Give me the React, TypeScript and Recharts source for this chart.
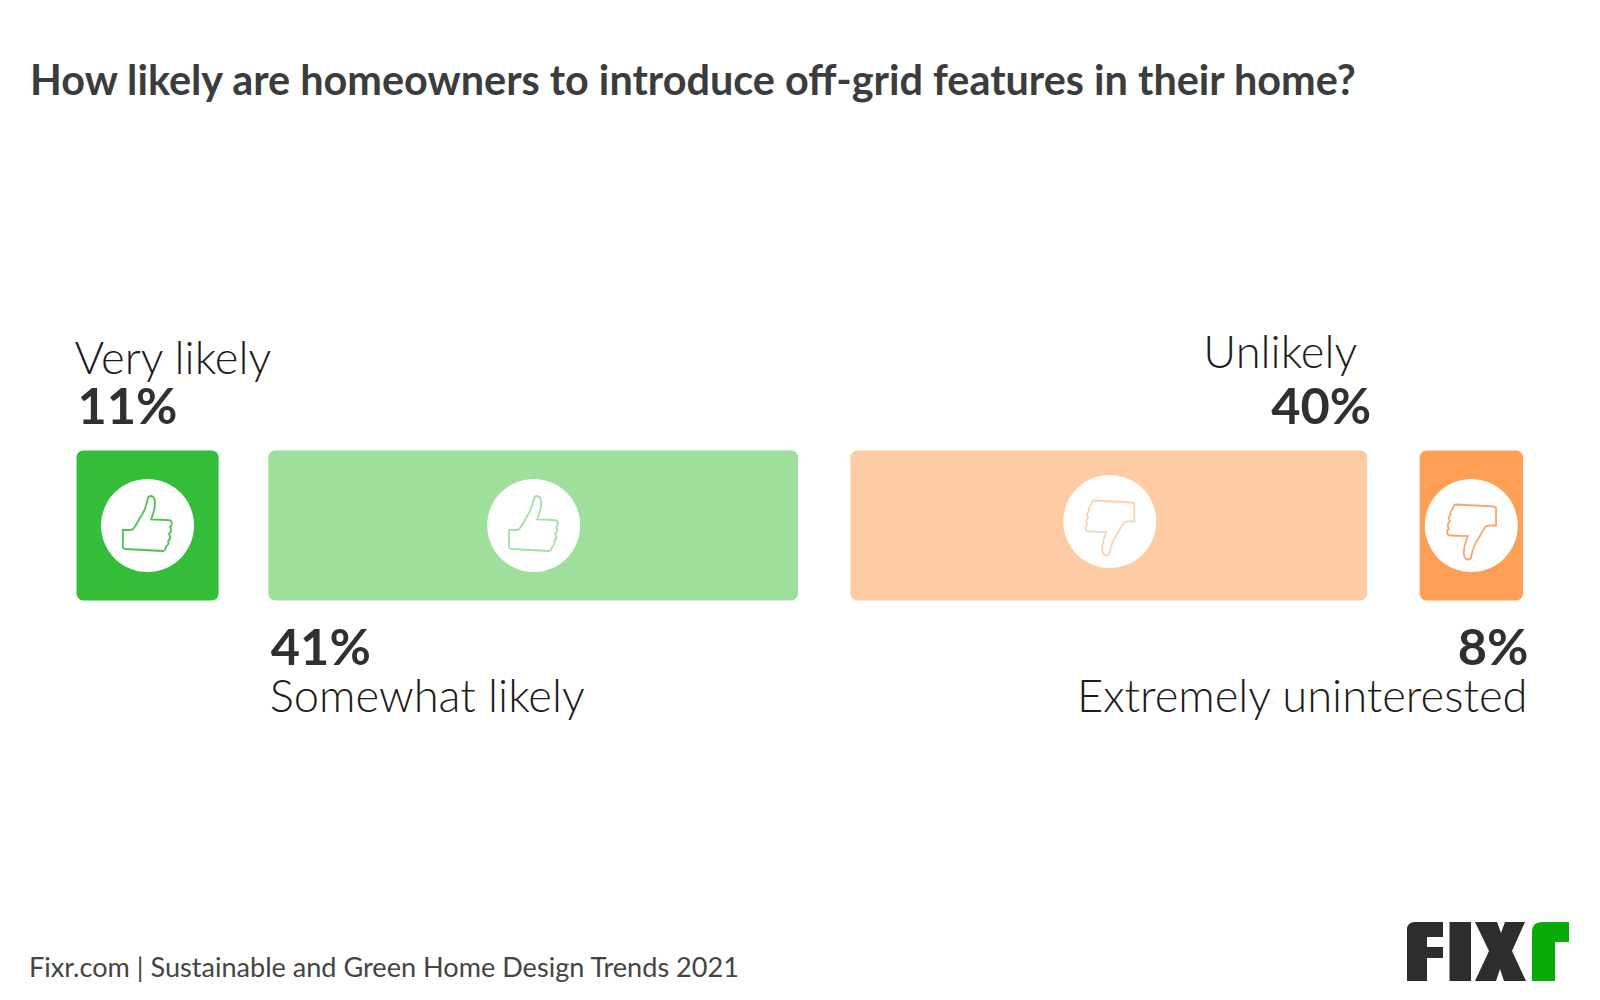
import { Bar, BarChart, XAxis, YAxis } from "recharts";

const categories = ["Very likely", "Somewhat likely", "Unlikely", "Extremely uninterested"];
const shares = [11, 41, 40, 8];
const colors = ["#33bd38", "#9ddf9b", "#fecba4", "#fe9f55"];
const iconColors = ["#4cc451", "#a5dfa4", "#f8d3b4", "#f5a869"];

const row = Object.fromEntries([["name", "share"], ...categories.map((c, i) => [c, shares[i]])]);

const thumb =
  "M-24.7 4.5 L-24.7 21.5 Q-24.7 23 -22 23.5 L15 25.5 Q18 25.5 18.5 21 Q22 19 20.5 15.5 Q24 12.5 21.5 8.5 Q25 5.5 22.5 1.5 Q25 -1 24 -3.5 Q23.5 -5.5 20 -5.5 L3.5 -6 Q7.5 -16 7.5 -23 Q7.5 -29 3.5 -29.5 Q0.5 -29.5 0 -26 Q-2 -15 -8 -7 Q-11 -1 -14 3 Q-15 4.5 -18 4.5 Z";

// label placement for each bar: gap shift, edge offsets for name and value, icon nudge
const placement = [
  { shift: 0, anchor: "start", nameDx: -2, valueDx: 1, above: true, nameY: 374, iconDx: 0, iconDy: 0 },
  { shift: 49.7, anchor: "start", nameDx: 1.5, valueDx: 2.5, above: false, nameY: 712, iconDx: 0.5, iconDy: 0 },
  { shift: 102, anchor: "end", nameDx: -10, valueDx: 4, above: true, nameY: 368, iconDx: 1, iconDy: -4 },
  { shift: 154.5, anchor: "end", nameDx: 4.5, valueDx: 5.5, above: false, nameY: 712, iconDx: 0, iconDy: 0 },
];

function Segment(props: any, i: number) {
  const p = placement[i];
  const x = props.x + p.shift;
  const { y, width, height } = props;
  const edge = p.anchor === "start" ? x : x + width;
  const cx = x + width / 2 + p.iconDx;
  const cy = y + height / 2 + p.iconDy;
  const up = i < 2;
  return (
    <g>
      <rect x={x} y={y} width={width} height={height} rx={7} fill={colors[i]} />
      <circle cx={cx} cy={cy} r={46.5} fill="#fff" />
      <path
        d={thumb}
        transform={`translate(${cx},${cy + (up ? 0 : 4.5)}) rotate(${up ? 0 : 180})`}
        fill="none"
        stroke={iconColors[i]}
        strokeWidth={1.8}
      />
      <text x={edge + p.nameDx} y={p.nameY} textAnchor={p.anchor as any} fontFamily="Lato" fontWeight={300} fontSize={45.3} fill="#1c1c1c">
        {categories[i]}
      </text>
      <text x={edge + p.valueDx} y={p.above ? 423.5 : 664.5} textAnchor={p.anchor as any} fontFamily="Lato" fontWeight={700} fontSize={50.5} fill="#303030">
        {shares[i]}%
      </text>
    </g>
  );
}

export default function App() {
  return (
    <div style={{ position: "absolute", left: 0, top: 0, width: 1600, height: 1000, background: "#fff", overflow: "hidden" }}>
      <BarChart
        width={1600}
        height={1000}
        data={[row]}
        layout="vertical"
        barCategoryGap={0}
        margin={{ left: 76.5, right: 231.5, top: 450.5, bottom: 400 }}
      >
        <XAxis type="number" domain={[0, 100]} hide />
        <YAxis type="category" dataKey="name" hide />
        {categories.map((c, i) => (
          <Bar key={c} dataKey={c} stackId="a" isAnimationActive={false} shape={(props: any) => Segment(props, i)} />
        ))}
        <text x={30} y={95} fontFamily="Lato" fontWeight={700} fontSize={41.4} fill="#3c3c3c">
          How likely are homeowners to introduce off-grid features in their home?
        </text>
        <text x={29} y={977} fontFamily="Lato" fontWeight={400} fontSize={27.1} fill="#444">
          Fixr.com | Sustainable and Green Home Design Trends 2021
        </text>
        <path d="M1407 981 V930 Q1407 922 1415 922 H1443 V937 H1427 V947 H1443 V958 H1427 V981 Z" fill="#2d2d2d" />
        <path d="M1449.5 922 H1471 V981 H1449.5 Z" fill="#2d2d2d" />
        <path d="M1475 922 H1497 L1501 933 L1505 922 H1525 L1512 951 L1526 981 H1504 L1500 969 L1496 981 H1475 L1489 951 Z" fill="#2d2d2d" />
        <path d="M1532 981 V932 Q1532 922 1542 922 H1569 V942 H1555 V981 Z" fill="#09ab09" />
      </BarChart>
    </div>
  );
}
